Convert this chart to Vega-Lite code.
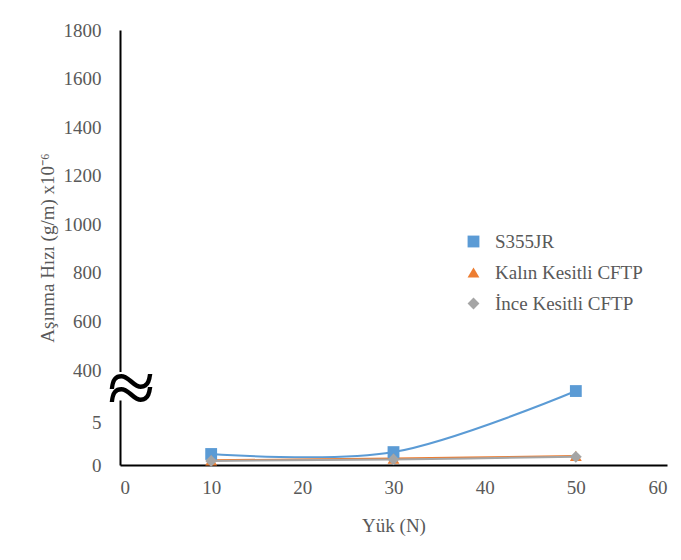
{
  "$schema": "https://vega.github.io/schema/vega-lite/v6.json",
  "width": 547,
  "height": 435,
  "autosize": "none",
  "padding": {"left": 120, "top": 30, "right": 14, "bottom": 95},
  "background": "white",
  "data": {
    "values": [
      {"series": "S355JR", "load": 10, "rate": 1.28},
      {"series": "S355JR", "load": 30, "rate": 1.5},
      {"series": "S355JR", "load": 50, "rate": 8.6},
      {"series": "Kalın Kesitli CFTP", "load": 10, "rate": 0.55},
      {"series": "Kalın Kesitli CFTP", "load": 30, "rate": 0.75},
      {"series": "Kalın Kesitli CFTP", "load": 50, "rate": 1.05},
      {"series": "İnce Kesitli CFTP", "load": 10, "rate": 0.47},
      {"series": "İnce Kesitli CFTP", "load": 30, "rate": 0.65},
      {"series": "İnce Kesitli CFTP", "load": 50, "rate": 0.95}
    ]
  },
  "layer": [
    {
      "mark": {"type": "line", "interpolate": "cardinal", "strokeWidth": 2},
      "encoding": {
        "x": {
          "field": "load", "type": "quantitative",
          "scale": {"domain": [0, 60], "nice": false, "zero": false},
          "axis": {
            "values": [0, 10, 20, 30, 40, 50, 60], "ticks": false, "grid": false, "format": "d",
            "domainColor": "black", "domainWidth": 2,
            "labelFont": "Liberation Serif", "labelFontSize": 19, "labelColor": "#595959", "labelPadding": 13,
            "title": "Yük (N)", "titleFont": "Liberation Serif", "titleFontSize": 19, "titleFontWeight": "normal",
            "titleColor": "#595959", "titlePadding": 19
          }
        },
        "y": {
          "field": "rate", "type": "quantitative",
          "scale": {"type": "linear", "domain": [0, 10, 400, 1800], "range": [435, 349, 340, 0], "nice": false, "zero": false},
          "axis": {
            "values": [0, 5, 400, 600, 800, 1000, 1200, 1400, 1600, 1800], "ticks": false, "grid": false, "format": "d",
            "domainColor": "black", "domainWidth": 2, "labelOverlap": false,
            "labelFont": "Liberation Serif", "labelFontSize": 19, "labelColor": "#595959", "labelPadding": 19,
            "title": "Aşınma Hızı (g/m) x10⁻⁶", "titleFont": "Liberation Serif", "titleFontSize": 19,
            "titleFontWeight": "normal", "titleColor": "#595959", "titlePadding": 6
          }
        },
        "color": {
          "field": "series", "type": "nominal", "sort": null,
          "scale": {"domain": ["S355JR", "Kalın Kesitli CFTP", "İnce Kesitli CFTP"], "range": ["#5B9BD5", "#ED7D31", "#A5A5A5"]}
        }
      }
    },
    {
      "mark": {"type": "point", "filled": true, "size": 140, "opacity": 1},
      "encoding": {
        "x": {"field": "load", "type": "quantitative"},
        "y": {"field": "rate", "type": "quantitative"},
        "color": {"field": "series", "type": "nominal", "sort": null},
        "shape": {
          "field": "series", "type": "nominal", "sort": null,
          "scale": {"domain": ["S355JR", "Kalın Kesitli CFTP", "İnce Kesitli CFTP"], "range": ["square", "triangle-up", "diamond"]}
        }
      }
    },
    {
      "data": {"values": [{}]},
      "mark": {"type": "rect", "color": "white"},
      "encoding": {
        "x": {"datum": -1.2, "type": "quantitative"},
        "x2": {"datum": 1.2},
        "y": {"datum": 7.5, "type": "quantitative"},
        "y2": {"datum": 313}
      }
    },
    {
      "data": {"values": [{}]},
      "mark": {"type": "text", "text": ["~", "~"], "font": "Liberation Serif", "fontSize": 88, "lineHeight": 13, "color": "black", "align": "center", "baseline": "middle"},
      "encoding": {
        "x": {"datum": 1.2, "type": "quantitative"},
        "y": {"datum": 9.3, "type": "quantitative"}
      }
    }
  ],
  "config": {
    "view": {"stroke": null},
    "font": "Liberation Serif",
    "legend": {
      "title": null, "orient": "none", "legendX": 344, "legendY": 202, "padding": 0,
      "symbolSize": 140, "symbolStrokeWidth": 0, "labelOffset": 12, "rowPadding": 11,
      "labelFont": "Liberation Serif", "labelFontSize": 19, "labelColor": "#595959"
    }
  }
}
